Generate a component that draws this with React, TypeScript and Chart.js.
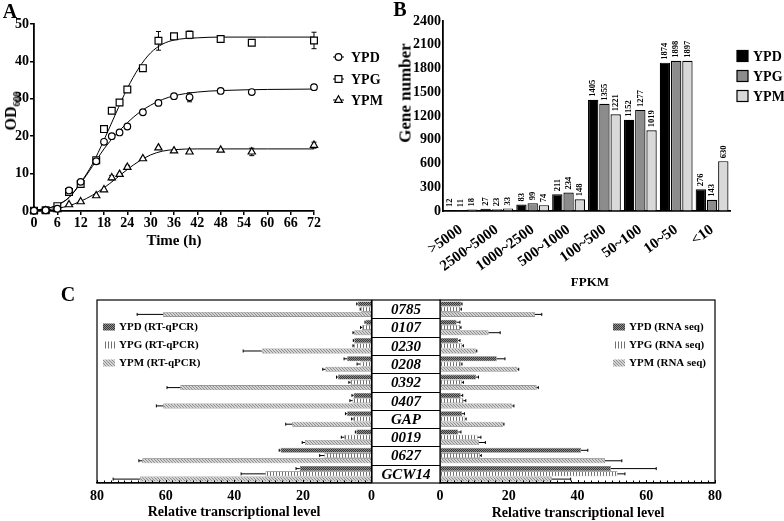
import React, { useEffect, useRef } from "react";
import { Chart, registerables } from "chart.js";

Chart.register(...registerables);

const SERIF = "'Liberation Serif', 'Times New Roman', Times, serif";

/* ---------- Panel A: growth curves (OD600) ---------- */
const timeHours = [0, 3, 6, 9, 12, 16, 18, 20, 22, 24, 28, 32, 36, 40, 48, 56, 72];
const odYPD = [0.1, 0.2, 0.6, 5.5, 7.8, 13.3, 18.5, 20.0, 21.0, 22.6, 26.4, 28.9, 30.7, 30.4, 32.1, 31.8, 33.1];
const odYPG = [0.1, 0.2, 1.3, 5.1, 7.2, 13.6, 21.9, 26.8, 29.0, 32.5, 38.2, 45.5, 46.7, 47.1, 46.0, 45.0, 45.6];
const odYPM = [0.1, 0.1, 0.4, 1.7, 2.5, 4.1, 5.7, 8.9, 9.8, 11.7, 14.0, 16.9, 16.1, 15.8, 16.3, 15.8, 17.6];
const odErrYPD = [0, 0, 0, 0.6, 0.5, 0.5, 0, 0.3, 0, 0.3, 0, 0, 0, 1.2, 0, 0, 0];
const odErrYPG = [0, 0, 0, 0.6, 0.5, 0.6, 0.5, 0.6, 0, 0.6, 0.6, 2.5, 0, 1.0, 0, 0, 2.2];
const odErrYPM = [0, 0, 0, 0, 0, 0, 0, 0.6, 0, 0.5, 0, 0, 0, 0, 0, 1.0, 0.8];
const fitHours = [0, 3, 6, 9, 12, 15, 18, 21, 24, 27, 30, 33, 36, 42, 48, 60, 72];
const fitYPD = [0.3, 0.6, 1.6, 3.6, 7.4, 11.9, 16.6, 20.4, 23.6, 26.3, 28.3, 29.8, 30.8, 31.8, 32.2, 32.5, 32.6];
const fitYPG = [0.3, 0.6, 1.6, 3.6, 7.6, 12.5, 19.0, 26.0, 32.8, 38.3, 42.3, 44.6, 45.7, 46.3, 46.5, 46.5, 46.5];
const fitYPM = [0.1, 0.3, 0.7, 1.4, 2.6, 4.2, 6.2, 8.6, 11.1, 13.3, 15.0, 16.0, 16.4, 16.6, 16.6, 16.6, 16.6];

/* ---------- Panel B: FPKM distribution ---------- */
const fpkmBins = [">5000", "2500~5000", "1000~2500", "500~1000", "100~500", "50~100", "10~50", "<10"];
const genesYPD = [12, 27, 83, 211, 1405, 1152, 1874, 276];
const genesYPG = [11, 23, 99, 234, 1355, 1277, 1898, 143];
const genesYPM = [18, 33, 74, 148, 1221, 1019, 1897, 630];

/* ---------- Panel C: RT-qPCR vs RNA seq ---------- */
const geneNames = ["0785", "0107", "0230", "0208", "0392", "0407", "GAP", "0019", "0627", "GCW14"];
const qpcrYPD = [4.0, 1.7, 5.0, 7.1, 9.8, 5.2, 7.1, 4.4, 26.5, 20.9];
const qpcrYPDErr = [0.3, 0.2, 0.3, 0.9, 0.4, 0.5, 0.5, 0.3, 0.4, 1.1];
const qpcrYPG = [3.0, 2.7, 5.0, 3.2, 6.1, 5.5, 5.3, 7.9, 13.7, 30.9];
const qpcrYPGErr = [0.3, 0.5, 0.4, 1.0, 0.5, 0.8, 0.5, 0.9, 1.4, 7.1];
const qpcrYPM = [60.7, 5.0, 32.0, 13.4, 55.7, 60.7, 23.1, 19.4, 66.8, 67.5];
const qpcrYPMErr = [7.6, 0.4, 5.4, 0.8, 3.9, 2.0, 1.9, 0.8, 1.0, 7.8];
const seqYPD = [6.1, 4.8, 5.3, 16.5, 10.5, 6.0, 6.4, 5.3, 41.0, 49.7];
const seqYPDErr = [0.3, 1.0, 0.5, 2.4, 0.7, 0.6, 0.7, 0.8, 2.0, 13.2];
const seqYPG = [5.9, 5.8, 6.4, 6.1, 6.3, 6.8, 7.3, 10.9, 11.6, 51.6];
const seqYPGErr = [0.3, 0.3, 0.4, 0.3, 0.5, 0.7, 0.3, 1.0, 0.4, 2.2];
const seqYPM = [27.6, 14.1, 10.5, 22.5, 28.1, 21.0, 18.4, 11.3, 48.0, 32.5];
const seqYPMErr = [2.0, 3.4, 0.2, 0.4, 0.5, 0.5, 0.2, 1.9, 4.9, 5.5];

const font = (size: number, weight = "bold", style = "normal") => `${style} ${weight} ${size}px ${SERIF}`;
const plain = (v: any) => String(v);

function makePattern(kind: string): any {
  const c = document.createElement("canvas");
  if (kind === "dark") {
    c.width = 2; c.height = 2;
  } else if (kind === "vertical") {
    c.width = 3; c.height = 1;
  } else {
    c.width = 3; c.height = 3;
  }
  const g = c.getContext("2d");
  if (!g) return "#888";
  if (kind === "dark") {
    g.fillStyle = "#8c8c8c"; g.fillRect(0, 0, 2, 2);
    g.fillStyle = "#3a3a3a"; g.fillRect(0, 0, 1, 1); g.fillRect(1, 1, 1, 1);
  } else if (kind === "vertical") {
    g.fillStyle = "#ffffff"; g.fillRect(0, 0, 3, 1);
    g.fillStyle = "#707070"; g.fillRect(0, 0, 1, 1);
  } else {
    g.fillStyle = "#d4d4d4"; g.fillRect(0, 0, 3, 3);
    g.fillStyle = "#8e8e8e"; g.fillRect(0, 0, 1, 1); g.fillRect(1, 1, 1, 1); g.fillRect(2, 2, 1, 1);
  }
  return g.createPattern(c, "repeat") || "#888";
}

function drawMarker(ctx: CanvasRenderingContext2D, style: string, x: number, y: number) {
  ctx.beginPath();
  if (style === "circle") ctx.arc(x, y, 3.3, 0, Math.PI * 2);
  else if (style === "rect") ctx.rect(x - 3.4, y - 3.4, 6.8, 6.8);
  else {
    ctx.moveTo(x, y - 4.2);
    ctx.lineTo(x + 3.8, y + 2.4);
    ctx.lineTo(x - 3.8, y + 2.4);
    ctx.closePath();
  }
  ctx.fillStyle = "#fff";
  ctx.fill();
  ctx.stroke();
}

export default function App() {
  const aRef = useRef<HTMLCanvasElement>(null);
  const bRef = useRef<HTMLCanvasElement>(null);
  const cLRef = useRef<HTMLCanvasElement>(null);
  const cRRef = useRef<HTMLCanvasElement>(null);

  useEffect(() => {
    document.body.style.margin = "0";
    const charts: Chart[] = [];

    /* ----- Panel A ----- */
    const pts = (ys: number[]) => timeHours.map((t, i) => ({ x: t, y: ys[i] }));
    const fitPts = (ys: number[]) => fitHours.map((t, i) => ({ x: t, y: ys[i] }));
    const pointSet = (label: string, ys: number[], style: string, r: number, errs: number[]) => ({
      label, data: pts(ys), pointStyle: style, pointRadius: r, pointBackgroundColor: "#fff",
      pointBorderColor: "#000", pointBorderWidth: 1.2, showLine: false, clip: false, order: 0, errs,
    });
    const lineSet = (ys: number[]) => ({
      label: "", data: fitPts(ys), showLine: true, pointRadius: 0, borderColor: "#000", borderWidth: 1,
      cubicInterpolationMode: "monotone", fill: false, clip: false, order: 1,
    });
    const errPluginA = {
      id: "errA",
      beforeDatasetsDraw(chart: any) {
        const ctx = chart.ctx; const ys = chart.scales.y;
        ctx.save(); ctx.strokeStyle = "#000"; ctx.lineWidth = 1;
        chart.data.datasets.forEach((ds: any, di: number) => {
          if (!ds.errs) return;
          chart.getDatasetMeta(di).data.forEach((el: any, i: number) => {
            const e = ds.errs[i]; if (!e) return;
            const v = ds.data[i].y;
            const y1 = ys.getPixelForValue(v + e), y2 = ys.getPixelForValue(v - e);
            ctx.beginPath();
            ctx.moveTo(el.x, y1); ctx.lineTo(el.x, y2);
            ctx.moveTo(el.x - 2.5, y1); ctx.lineTo(el.x + 2.5, y1);
            ctx.moveTo(el.x - 2.5, y2); ctx.lineTo(el.x + 2.5, y2);
            ctx.stroke();
          });
        });
        ctx.restore();
      },
    };
    const legendA = {
      id: "legA",
      afterDraw(chart: any) {
        const ctx = chart.ctx;
        const items = [["YPD", "circle", 57], ["YPG", "rect", 79], ["YPM", "triangle", 100]] as const;
        ctx.save();
        items.forEach(([lab, st, y]) => {
          ctx.strokeStyle = "#000"; ctx.lineWidth = 1;
          ctx.beginPath(); ctx.moveTo(333, y); ctx.lineTo(344, y); ctx.stroke();
          ctx.lineWidth = 1.2;
          drawMarker(ctx, st, 338.5, y);
          ctx.fillStyle = "#000"; ctx.font = font(14); ctx.textBaseline = "middle"; ctx.textAlign = "left";
          ctx.fillText(lab, 351, y + 1);
        });
        ctx.restore();
      },
    };
    if (aRef.current) {
      charts.push(new Chart(aRef.current, {
        type: "scatter",
        data: {
          datasets: [
            pointSet("YPD", odYPD, "circle", 3.3, odErrYPD),
            pointSet("YPG", odYPG, "rect", 4.8, odErrYPG),
            pointSet("YPM", odYPM, "triangle", 4.2, odErrYPM),
            lineSet(fitYPD), lineSet(fitYPG), lineSet(fitYPM),
          ] as any,
        },
        options: {
          responsive: false, animation: false,
          layout: { padding: { top: 24, right: 86, left: 0, bottom: 0 } },
          plugins: { legend: { display: false }, tooltip: { enabled: false } },
          scales: {
            x: {
              type: "linear", min: 0, max: 72,
              ticks: { stepSize: 6, color: "#000", font: { family: SERIF, size: 14, weight: "bold" }, padding: 0, callback: plain },
              grid: { drawOnChartArea: false, drawTicks: true, tickLength: 4, color: "#000", lineWidth: 1.5 },
              border: { color: "#000", width: 1.8 },
              afterFit: (s: any) => { s.height = 49; },
            },
            y: {
              min: 0, max: 50,
              ticks: { stepSize: 10, color: "#000", font: { family: SERIF, size: 14, weight: "bold" }, padding: 1, callback: plain },
              grid: { drawOnChartArea: false, drawTicks: true, tickLength: 4, color: "#000", lineWidth: 1.5 },
              border: { color: "#000", width: 1.8 },
              afterFit: (s: any) => { s.width = 34; },
            },
          },
        } as any,
        plugins: [errPluginA, legendA],
      }));
    }

    /* ----- Panel B ----- */
    const barLabels = {
      id: "barLabels",
      afterDatasetsDraw(chart: any) {
        const ctx = chart.ctx;
        ctx.save();
        ctx.fillStyle = "#000"; ctx.font = font(8.5);
        ctx.textAlign = "left"; ctx.textBaseline = "middle";
        chart.data.datasets.forEach((ds: any, di: number) => {
          chart.getDatasetMeta(di).data.forEach((el: any, i: number) => {
            ctx.save();
            ctx.translate(el.x, el.y - 3);
            ctx.rotate(-Math.PI / 2);
            ctx.fillText(String(ds.data[i]), 0, 0);
            ctx.restore();
          });
        });
        ctx.restore();
      },
    };
    const legendB = {
      id: "legB",
      afterDraw(chart: any) {
        const ctx = chart.ctx;
        const items: [string, string, number][] = [["YPD", "#000000", 56], ["YPG", "#8c8c8c", 76], ["YPM", "#d9d9d9", 96]];
        ctx.save();
        items.forEach(([lab, col, y]) => {
          ctx.fillStyle = col; ctx.strokeStyle = "#000"; ctx.lineWidth = 1.2;
          ctx.fillRect(337, y - 5.5, 11, 11); ctx.strokeRect(337, y - 5.5, 11, 11);
          ctx.fillStyle = "#000"; ctx.font = font(14); ctx.textAlign = "left"; ctx.textBaseline = "middle";
          ctx.fillText(lab, 353, y + 1);
        });
        ctx.restore();
      },
    };
    if (bRef.current) {
      const bar = (label: string, data: number[], color: string) => ({
        label, data, backgroundColor: color, borderColor: "#000", borderWidth: 1.2,
        categoryPercentage: 0.94, barPercentage: 0.92,
      });
      charts.push(new Chart(bRef.current, {
        type: "bar",
        data: {
          labels: fpkmBins,
          datasets: [bar("YPD", genesYPD, "#000000"), bar("YPG", genesYPG, "#8c8c8c"), bar("YPM", genesYPM, "#d9d9d9")],
        },
        options: {
          responsive: false, animation: false,
          layout: { padding: { top: 21, right: 54, left: 0, bottom: 0 } },
          plugins: { legend: { display: false }, tooltip: { enabled: false } },
          scales: {
            x: {
              ticks: { color: "#000", font: { family: SERIF, size: 15, weight: "bold" }, minRotation: 36, maxRotation: 36, autoSkip: false, padding: 2 },
              grid: { display: false },
              border: { color: "#000", width: 1.8 },
              afterFit: (s: any) => { s.height = 79; },
            },
            y: {
              min: 0, max: 2400,
              ticks: { stepSize: 300, color: "#000", font: { family: SERIF, size: 14, weight: "bold" }, padding: 2, callback: plain },
              grid: { drawOnChartArea: false, drawTicks: false },
              border: { color: "#000", width: 1.8 },
              afterFit: (s: any) => { s.width = 43; },
            },
          },
        } as any,
        plugins: [barLabels, legendB],
      }));
    }

    /* ----- Panel C ----- */
    const pDark = makePattern("dark");
    const pVert = makePattern("vertical");
    const pDiag = makePattern("diag");
    const fills = [pDark, pVert, pDiag];

    const hbar = (label: string, data: number[], errs: number[], fill: any) => ({
      label, data, errs, backgroundColor: fill, borderColor: "#666", borderWidth: 0.6,
      categoryPercentage: 0.86, barPercentage: 0.96,
    });
    const errPluginC = {
      id: "errC",
      afterDatasetsDraw(chart: any) {
        const ctx = chart.ctx; const xs = chart.scales.x;
        ctx.save(); ctx.strokeStyle = "#000"; ctx.lineWidth = 1;
        chart.data.datasets.forEach((ds: any, di: number) => {
          chart.getDatasetMeta(di).data.forEach((el: any, i: number) => {
            const e = ds.errs[i]; if (!e) return;
            const xe = xs.getPixelForValue(ds.data[i] + e);
            ctx.beginPath();
            ctx.moveTo(el.x, el.y); ctx.lineTo(xe, el.y);
            ctx.moveTo(xe, el.y - 1.5); ctx.lineTo(xe, el.y + 1.5);
            ctx.stroke();
          });
        });
        ctx.restore();
      },
    };
    const frameC = (legendItems: string[], legX: number) => ({
      id: "frameC",
      afterDraw(chart: any) {
        const ctx = chart.ctx; const xs = chart.scales.x;
        const { left, right, top, bottom } = chart.chartArea;
        ctx.save();
        ctx.strokeStyle = "#000"; ctx.lineWidth = 1.2;
        ctx.strokeRect(left, top, right - left, bottom - top);
        ctx.lineWidth = 1;
        ctx.beginPath();
        for (let v = 0; v <= 80; v += 2) {
          const px = Math.round(xs.getPixelForValue(v)) + 0.5;
          ctx.moveTo(px, bottom); ctx.lineTo(px, bottom - (v % 20 === 0 ? 3 : 2.5));
        }
        ctx.stroke();
        const ys = [37, 55, 73];
        legendItems.forEach((lab, i) => {
          ctx.fillStyle = fills[i];
          ctx.fillRect(legX, ys[i] - 3.5, 12, 7);
          ctx.fillStyle = "#000"; ctx.font = font(11); ctx.textAlign = "left"; ctx.textBaseline = "middle";
          ctx.fillText(lab, legX + 16, ys[i] + 0.5);
        });
        ctx.restore();
      },
    });
    const labelColumn = {
      id: "labelColumn",
      afterDraw(chart: any) {
        const ctx = chart.ctx;
        const { left, top, bottom } = chart.chartArea;
        const colL = left - 68;
        const n = geneNames.length; const h = (bottom - top) / n;
        ctx.save();
        ctx.fillStyle = "#fff"; ctx.fillRect(colL, top, 68, bottom - top);
        ctx.strokeStyle = "#000"; ctx.lineWidth = 1.2;
        ctx.strokeRect(colL, top, 68, bottom - top);
        ctx.lineWidth = 1;
        ctx.beginPath();
        for (let i = 1; i < n; i++) {
          const y = Math.round(top + h * i) + 0.5;
          ctx.moveTo(colL, y); ctx.lineTo(left, y);
        }
        ctx.stroke();
        ctx.fillStyle = "#000"; ctx.font = font(15, "bold", "italic"); ctx.textAlign = "center"; ctx.textBaseline = "middle";
        geneNames.forEach((g, i) => ctx.fillText(g, colL + 34, top + h * i + h / 2 + 1));
        ctx.restore();
      },
    };
    const cOptions = (reverse: boolean, padL: number, padR: number) => ({
      indexAxis: "y",
      responsive: false, animation: false,
      layout: { padding: { top: 10, right: padR, left: padL, bottom: 0 } },
      plugins: { legend: { display: false }, tooltip: { enabled: false } },
      scales: {
        x: {
          min: 0, max: 80, reverse,
          ticks: { stepSize: 20, color: "#000", font: { family: SERIF, size: 14, weight: "bold" }, padding: 5, callback: plain },
          grid: { drawOnChartArea: false, drawTicks: false },
          border: { color: "#000", width: 1.2 },
          afterFit: (s: any) => { s.height = 38; },
        },
        y: { display: false },
      },
    });
    if (cLRef.current) {
      charts.push(new Chart(cLRef.current, {
        type: "bar",
        data: {
          labels: geneNames,
          datasets: [
            hbar("YPD (RT-qPCR)", qpcrYPD, qpcrYPDErr, pDark),
            hbar("YPG (RT-qPCR)", qpcrYPG, qpcrYPGErr, pVert),
            hbar("YPM (RT-qPCR)", qpcrYPM, qpcrYPMErr, pDiag),
          ] as any,
        },
        options: cOptions(true, 97, 8) as any,
        plugins: [errPluginC, frameC(["YPD (RT-qPCR)", "YPG (RT-qPCR)", "YPM (RT-qPCR)"], 103)],
      }));
    }
    if (cRRef.current) {
      charts.push(new Chart(cRRef.current, {
        type: "bar",
        data: {
          labels: geneNames,
          datasets: [
            hbar("YPD (RNA seq)", seqYPD, seqYPDErr, pDark),
            hbar("YPG (RNA seq)", seqYPG, seqYPGErr, pVert),
            hbar("YPM (RNA seq)", seqYPM, seqYPMErr, pDiag),
          ] as any,
        },
        options: cOptions(false, 68, 69) as any,
        plugins: [errPluginC, frameC(["YPD (RNA seq)", "YPG (RNA seq)", "YPM (RNA seq)"], 241), labelColumn],
      }));
    }

    return () => charts.forEach((c) => c.destroy());
  }, []);

  const abs = (left: number, top: number, w: number, h: number): React.CSSProperties => ({
    position: "absolute", left, top, width: w, height: h,
  });
  const text = (x: number, y: number, size: number, rotate = 0): React.CSSProperties => ({
    position: "absolute", left: x, top: y, transform: `translate(-50%, -50%) rotate(${rotate}deg)`,
    fontFamily: SERIF, fontWeight: "bold", fontSize: size, lineHeight: 1, whiteSpace: "nowrap", color: "#000",
  });

  return (
    <div style={{ position: "fixed", left: 0, top: 0, width: 784, height: 521, background: "#fff", overflow: "hidden" }}>
      <canvas ref={aRef} width={400} height={260} style={abs(0, 0, 400, 260)} />
      <canvas ref={bRef} width={384} height={290} style={abs(400, 0, 384, 290)} />
      <canvas ref={cLRef} width={380} height={231} style={abs(0, 290, 380, 231)} />
      <canvas ref={cRRef} width={412} height={231} style={abs(372, 290, 412, 231)} />
      <div style={text(10, 11, 20)}>A</div>
      <div style={text(400, 9, 20)}>B</div>
      <div style={text(68, 294, 20)}>C</div>
      <div style={text(11, 111, 16, -90)}>
        OD<span style={{ fontSize: 10, verticalAlign: "sub", lineHeight: 0 }}>600</span>
      </div>
      <div style={text(174, 240, 15)}>Time (h)</div>
      <div style={text(405, 93, 17, -90)}>Gene number</div>
      <div style={text(590, 281, 13)}>FPKM</div>
      <div style={text(234, 512, 14)}>Relative transcriptional level</div>
      <div style={text(578, 513, 14)}>Relative transcriptional level</div>
    </div>
  );
}
